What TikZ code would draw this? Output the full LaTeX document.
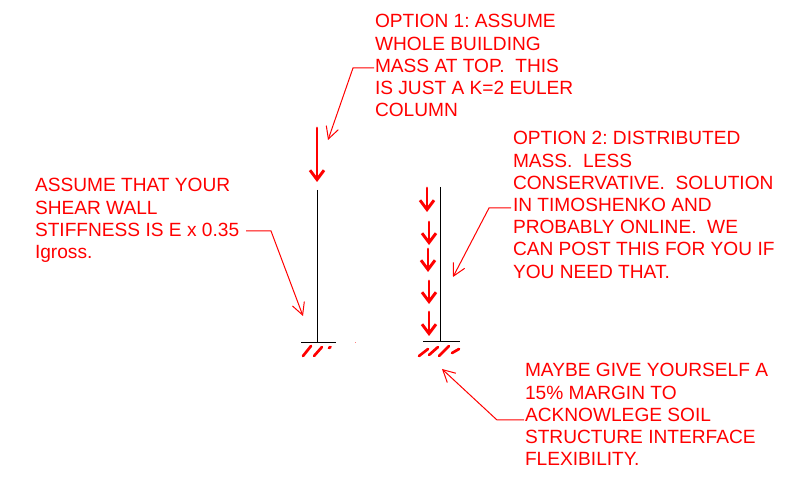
\documentclass[tikz,border=0pt]{standalone}
\usepackage{fontspec}
\setmainfont{Liberation Sans}
\usetikzlibrary{arrows.meta}
\definecolor{mk}{RGB}{255,0,0}
\tikzset{
  x=0.75pt,y=-0.75pt,
  note/.style={anchor=north west,inner sep=0pt,outer sep=0pt,align=left,text=mk,font=\fontsize{14.35pt}{16.65pt}\selectfont\frenchspacing},
  leader/.style={draw=mk,line width=0.75pt,-{Straight Barb[length=9pt,width=9.5pt,line width=0.75pt]}},
  lead/.style={draw=mk,line width=2.2pt,line cap=round,-{Straight Barb[length=7pt,width=10.5pt,line width=2.2pt]}},
  member/.style={draw=black,line width=0.75pt},
  hatch/.style={draw=mk,line width=2pt,line cap=round},
}
\begin{document}
\begin{tikzpicture}
\useasboundingbox (0,0) rectangle (800,484);
\node[note] (t1) at (375,14.5) {OPTION 1: ASSUME\\WHOLE BUILDING\\MASS AT TOP.\ \ THIS\\IS JUST A K=2 EULER\\COLUMN};
\node[note] (t2) at (513,131.5) {OPTION 2: DISTRIBUTED\\MASS.\ \ LESS\\CONSERVATIVE.\ \ SOLUTION\\IN TIMOSHENKO AND\\PROBABLY ONLINE.\ \ WE\\CAN POST THIS FOR YOU IF\\YOU NEED THAT.};
\node[note] (t3) at (35,178.5) {ASSUME THAT YOUR\\SHEAR WALL\\STIFFNESS IS E x 0.35\\Igross.};
\node[note] (t4) at (525,363.5) {MAYBE GIVE YOURSELF A\\15\% MARGIN TO\\ACKNOWLEGE SOIL\\STRUCTURE INTERFACE\\FLEXIBILITY.};
% columns
\coordinate (c1t) at (317,190); \coordinate (c1b) at (317,343);
\coordinate (b1l) at (301,343); \coordinate (b1r) at (336,343);
\coordinate (c2t) at (440,187); \coordinate (c2b) at (440,341);
\coordinate (b2l) at (423,342); \coordinate (b2r) at (460,342);
\draw[member] (c1t) -- (c1b);
\draw[member] (b1l) -- (b1r);
\draw[member] (c2t) -- (c2b);
\draw[member] (b2l) -- (b2r);
% leaders
\draw[leader] (374,68) -- (353,68) -- (328,140);
\draw[leader] (511,208) -- (489,208) -- (453,277);
\draw[leader] (246,231) -- (271,231) -- (303,316);
\draw[leader] (524,420) -- (497,420) -- (442,369);
% loads
\draw[lead] (317,128) -- (317,182);
\draw[lead] (427,188) -- (427,212);
\draw[lead] (429,222) -- (429,245);
\draw[lead] (428,249) -- (428,272);
\draw[lead] (429,281) -- (429,304);
\draw[lead] (429,312) -- (429,336);
% hatching
\draw[hatch] (303,356) -- (311,346);
\draw[hatch] (314,356) -- (322,347);
\draw[hatch] (329,348) -- (330.5,347);
\draw[hatch] (419,356) -- (428,349);
\draw[hatch] (429,355) -- (438,347);
\draw[hatch] (439,356) -- (449,346);
\draw[hatch] (452,353) -- (459,349);
\fill[mk!50] (354.5,342.5) rectangle (355.5,343.5);
\end{tikzpicture}
\end{document}
